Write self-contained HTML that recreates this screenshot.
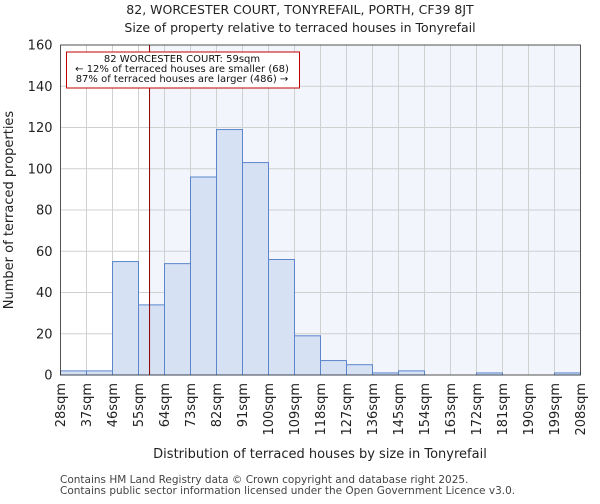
<!DOCTYPE html>
<html><head><meta charset="utf-8"><style>
body{margin:0;background:#fff;font-family:"DejaVu Sans","Liberation Sans",sans-serif}
</style></head><body>
<svg width="600" height="500" xmlns="http://www.w3.org/2000/svg" font-family="DejaVu Sans, Liberation Sans, sans-serif">
<g id="chart"></g>
</svg>
<script>
const binStarts=[28,37,46,55,64,73,82,91,100,109,118,127,136,145,154,163,172,181,190,199];
const counts=[2,2,55,34,54,96,119,103,56,19,7,5,1,2,0,0,1,0,0,1];
const yTicks=[0,20,40,60,80,100,120,140,160];
const xTickLabels=["28sqm","37sqm","46sqm","55sqm","64sqm","73sqm","82sqm","91sqm","100sqm","109sqm","118sqm","127sqm","136sqm","145sqm","154sqm","163sqm","172sqm","181sqm","190sqm","199sqm","208sqm"];
const propertySize=59;
const L=60.5,R=580.5,T=45,B=375,xMin=28,xMax=208,yMax=160;
const X=v=>L+(v-xMin)/(xMax-xMin)*(R-L);
const Y=v=>B-v/yMax*(B-T);
const NS="http://www.w3.org/2000/svg";
const g=document.getElementById('chart');
function mk(t,a,p){const e=document.createElementNS(NS,t);for(const k in a)e.setAttribute(k,a[k]);(p||g).appendChild(e);return e;}
let e;
e=mk('rect',{x:X(propertySize),y:T,width:R-X(propertySize),height:B-T,fill:'#f2f5fc'});


for(const v of yTicks){e=mk('line',{x1:L,x2:R,y1:Y(v),y2:Y(v),stroke:'#d0d0d0','stroke-width':1});

}
for(let i=0;i<xTickLabels.length;i++){const x=X(xMin+9*i);e=mk('line',{x1:x,x2:x,y1:T,y2:B,stroke:'#d0d0d0','stroke-width':1});

}
for(let i=0;i<counts.length;i++){const x0=X(binStarts[i]),x1=X(binStarts[i]+9);
e=mk('rect',{x:x0,y:Y(counts[i]),width:x1-x0,height:B-Y(counts[i]),fill:'#d6e1f4',stroke:'#5b86cc','stroke-width':1});

}
e=mk('line',{x1:X(propertySize)-0.5,x2:X(propertySize)-0.5,y1:T,y2:B,stroke:'#8b0000','stroke-width':1});


e=mk('rect',{x:L,y:T,width:R-L,height:B-T,fill:'none',stroke:'#333','stroke-width':0.8});


for(const v of yTicks){e=mk('text',{x:L-8,y:Y(v)+4.5,'text-anchor':'end','font-size':13,fill:'#222'});e.textContent=v;

}
for(let i=0;i<xTickLabels.length;i++){const x=X(xMin+9*i)+4.5;e=mk('text',{x:x,y:B+8,'text-anchor':'end','font-size':13,fill:'#222',transform:`rotate(-90 ${x} ${B+8})`});e.textContent=xTickLabels[i];

}
e=mk('rect',{x:66.5,y:52,width:233,height:36,fill:'#fff',stroke:'#c00000','stroke-width':1});


const ann=["82 WORCESTER COURT: 59sqm","← 12% of terraced houses are smaller (68)","87% of terraced houses are larger (486) →"];
ann.forEach((t,i)=>{e=mk('text',{x:182,y:62+i*10,'text-anchor':'middle','font-size':10,fill:'#111'});e.textContent=t;

});
e=mk('text',{x:300,y:14,'text-anchor':'middle','font-size':12.5,fill:'#222'});e.textContent="82, WORCESTER COURT, TONYREFAIL, PORTH, CF39 8JT";


e=mk('text',{x:300,y:32,'text-anchor':'middle','font-size':12.5,fill:'#222'});e.textContent="Size of property relative to terraced houses in Tonyrefail";


e=mk('text',{x:320,y:458,'text-anchor':'middle','font-size':13,fill:'#222'});e.textContent="Distribution of terraced houses by size in Tonyrefail";


e=mk('text',{x:13,y:210,'text-anchor':'middle','font-size':13,fill:'#222',transform:'rotate(-90 13 210)'});e.textContent="Number of terraced properties";


e=mk('text',{x:60,y:483,'font-size':10.5,fill:'#444'});e.textContent="Contains HM Land Registry data © Crown copyright and database right 2025.";


e=mk('text',{x:60,y:494,'font-size':10.5,fill:'#444'});e.textContent="Contains public sector information licensed under the Open Government Licence v3.0.";


</script>
</body></html>
